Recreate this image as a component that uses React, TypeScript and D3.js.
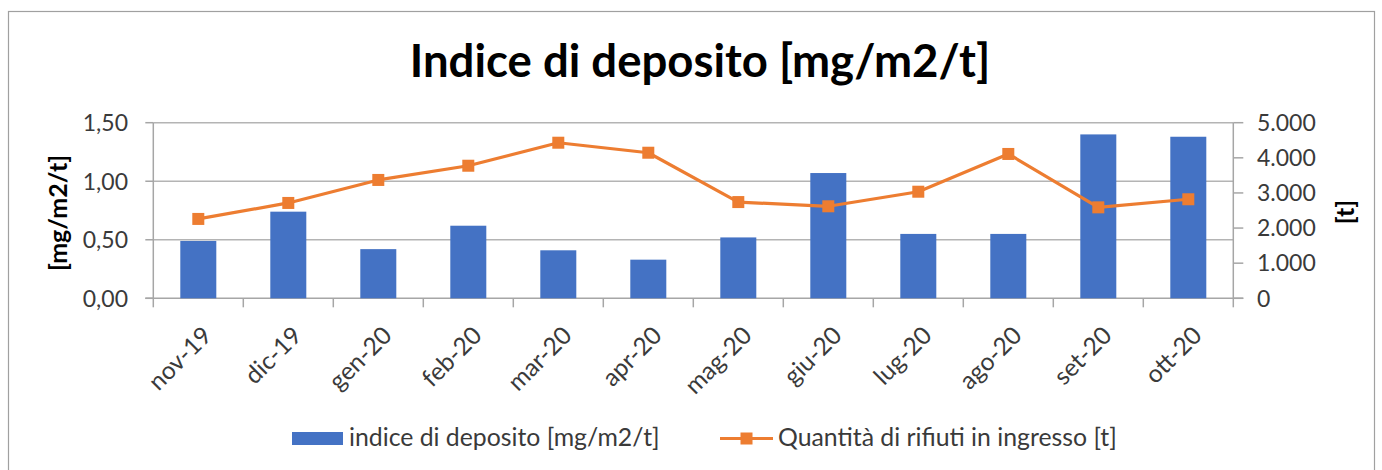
import React, { useEffect, useRef } from 'react';
import * as d3 from 'd3';

const months = ['nov-19', 'dic-19', 'gen-20', 'feb-20', 'mar-20', 'apr-20', 'mag-20', 'giu-20', 'lug-20', 'ago-20', 'set-20', 'ott-20'];
const indice = [0.49, 0.74, 0.42, 0.62, 0.41, 0.33, 0.52, 1.07, 0.55, 0.55, 1.4, 1.38];
const rifiuti = [2260, 2715, 3370, 3775, 4430, 4145, 2740, 2620, 3035, 4110, 2590, 2820];
const leftTicks = [0, 0.5, 1, 1.5];
const rightTicks = [0, 1000, 2000, 3000, 4000, 5000];

const title = 'Indice di deposito [mg/m2/t]';
const barName = 'indice di deposito [mg/m2/t]';
const lineName = 'Quantità di rifiuti in ingresso [t]';

export default function App() {
    const ref = useRef<SVGSVGElement | null>(null);
    useEffect(() => {
        const svg = d3.select(ref.current);
        svg.selectAll('*').remove();
        const width = 1382, height = 470;
        const m = { top: 122.7, right: 1233.3, bottom: 298.3, left: 153.3 };
        const font = 'Lato, "Liberation Sans", sans-serif';
        const blue = '#4472C4', orange = '#ED7D31', txt = '#3a3a3a';
        const loc = d3.formatLocale({ decimal: ',', thousands: '.', grouping: [3], currency: ['', ''] });
        const fLeft = loc.format('.2f'), fRight = loc.format(',.0f');

        svg.attr('viewBox', `0 0 ${width} ${height}`).style('font-family', font);

        // chart frame
        svg.append('rect').attr('x', 8.5).attr('y', 11.5).attr('width', 1366).attr('height', 470)
            .attr('fill', '#fff').attr('stroke', '#a0a0a0').attr('stroke-width', 1.2);

        const x = d3.scaleBand().domain(months).range([m.left, m.right]);
        const xb = d3.scaleBand().domain(months).range([m.left, m.right]).paddingInner(0.6).paddingOuter(0.3);
        const yL = d3.scaleLinear().domain([0, 1.5]).range([m.bottom, m.top]);
        const yR = d3.scaleLinear().domain([0, 5000]).range([m.bottom, m.top]);

        // gridlines
        svg.append('g').selectAll('line').data(leftTicks.slice(1)).join('line')
            .attr('x1', m.left).attr('x2', m.right)
            .attr('y1', d => yL(d)).attr('y2', d => yL(d))
            .attr('stroke', '#b4b4b4').attr('stroke-width', 1.5);

        // left axis
        const gl = svg.append('g');
        gl.append('line').attr('x1', m.left).attr('x2', m.left).attr('y1', m.top).attr('y2', m.bottom)
            .attr('stroke', '#a6a6a6').attr('stroke-width', 1.5);
        gl.selectAll('line.t').data(leftTicks).join('line').attr('class', 't')
            .attr('x1', m.left - 8).attr('x2', m.left).attr('y1', d => yL(d)).attr('y2', d => yL(d))
            .attr('stroke', '#a6a6a6').attr('stroke-width', 1.5);
        gl.selectAll('text').data(leftTicks).join('text')
            .attr('x', 128).attr('y', d => yL(d)).attr('dy', '0.36em').attr('text-anchor', 'end')
            .attr('font-size', 23).attr('fill', txt).text(d => fLeft(d));

        // right axis
        const gr = svg.append('g');
        gr.append('line').attr('x1', m.right).attr('x2', m.right).attr('y1', m.top).attr('y2', m.bottom + 9)
            .attr('stroke', '#a6a6a6').attr('stroke-width', 1.5);
        gr.selectAll('line.t').data(rightTicks).join('line').attr('class', 't')
            .attr('x1', m.right).attr('x2', m.right + 10).attr('y1', d => yR(d)).attr('y2', d => yR(d))
            .attr('stroke', '#a6a6a6').attr('stroke-width', 1.5);
        gr.selectAll('text').data(rightTicks).join('text')
            .attr('x', 1257).attr('y', d => yR(d)).attr('dy', '0.36em').attr('text-anchor', 'start')
            .attr('font-size', 23).attr('fill', txt).text(d => fRight(d));

        // bottom axis
        const gb = svg.append('g');
        gb.append('line').attr('x1', m.left - 8).attr('x2', m.right + 10).attr('y1', m.bottom).attr('y2', m.bottom)
            .attr('stroke', '#a6a6a6').attr('stroke-width', 1.5);
        gb.selectAll('line.t').data(months).join('line').attr('class', 't')
            .attr('x1', d => x(d)!).attr('x2', d => x(d)!).attr('y1', m.bottom).attr('y2', m.bottom + 9)
            .attr('stroke', '#a6a6a6').attr('stroke-width', 1.5);
        gb.selectAll('text').data(months).join('text')
            .attr('transform', d => `translate(${x(d)! + x.bandwidth() / 2 + 15},337) rotate(-45)`)
            .attr('text-anchor', 'end').attr('font-size', 24.5).attr('fill', txt).text(d => d);

        // bars
        svg.append('g').selectAll('rect').data(indice).join('rect')
            .attr('x', (d, i) => xb(months[i])!).attr('width', xb.bandwidth())
            .attr('y', d => yL(d)).attr('height', d => yL(0) - yL(d))
            .attr('fill', blue);

        // line
        const cx = (i: number) => x(months[i])! + x.bandwidth() / 2;
        const line = d3.line<number>().x((d, i) => cx(i)).y(d => yR(d));
        svg.append('path').datum(rifiuti).attr('d', line).attr('fill', 'none')
            .attr('stroke', orange).attr('stroke-width', 3.2).attr('stroke-linejoin', 'round');
        svg.append('g').selectAll('rect').data(rifiuti).join('rect')
            .attr('x', (d, i) => cx(i) - 6).attr('y', d => yR(d) - 6).attr('width', 12).attr('height', 12)
            .attr('fill', orange);

        // titles
        svg.append('text').attr('x', 700).attr('y', 77).attr('text-anchor', 'middle')
            .attr('font-size', 45.5).attr('font-weight', 700).attr('fill', '#000').text(title);
        svg.append('text').attr('transform', 'translate(58,213) rotate(-90)').attr('dy', '0.36em')
            .attr('text-anchor', 'middle').attr('font-size', 25).attr('font-weight', 700).attr('fill', '#000')
            .text('[mg/m2/t]');
        svg.append('text').attr('transform', 'translate(1345,212) rotate(-90)').attr('dy', '0.36em')
            .attr('text-anchor', 'middle').attr('font-size', 25).attr('font-weight', 700).attr('fill', '#000')
            .text('[t]');

        // legend
        const lg = svg.append('g');
        lg.append('rect').attr('x', 292).attr('y', 432).attr('width', 51).attr('height', 13).attr('fill', blue);
        lg.append('text').attr('x', 349).attr('y', 446).attr('font-size', 24.8).attr('fill', txt).text(barName);
        lg.append('line').attr('x1', 720).attr('x2', 773).attr('y1', 438.5).attr('y2', 438.5)
            .attr('stroke', orange).attr('stroke-width', 3.2);
        lg.append('rect').attr('x', 740.5).attr('y', 432.5).attr('width', 12).attr('height', 12).attr('fill', orange);
        lg.append('text').attr('x', 778).attr('y', 446).attr('font-size', 24.8).attr('fill', txt).text(lineName);
    }, []);
    return <svg ref={ref} width={1382} height={470} style={{ position: 'absolute', left: 0, top: 0 }} />;
}
